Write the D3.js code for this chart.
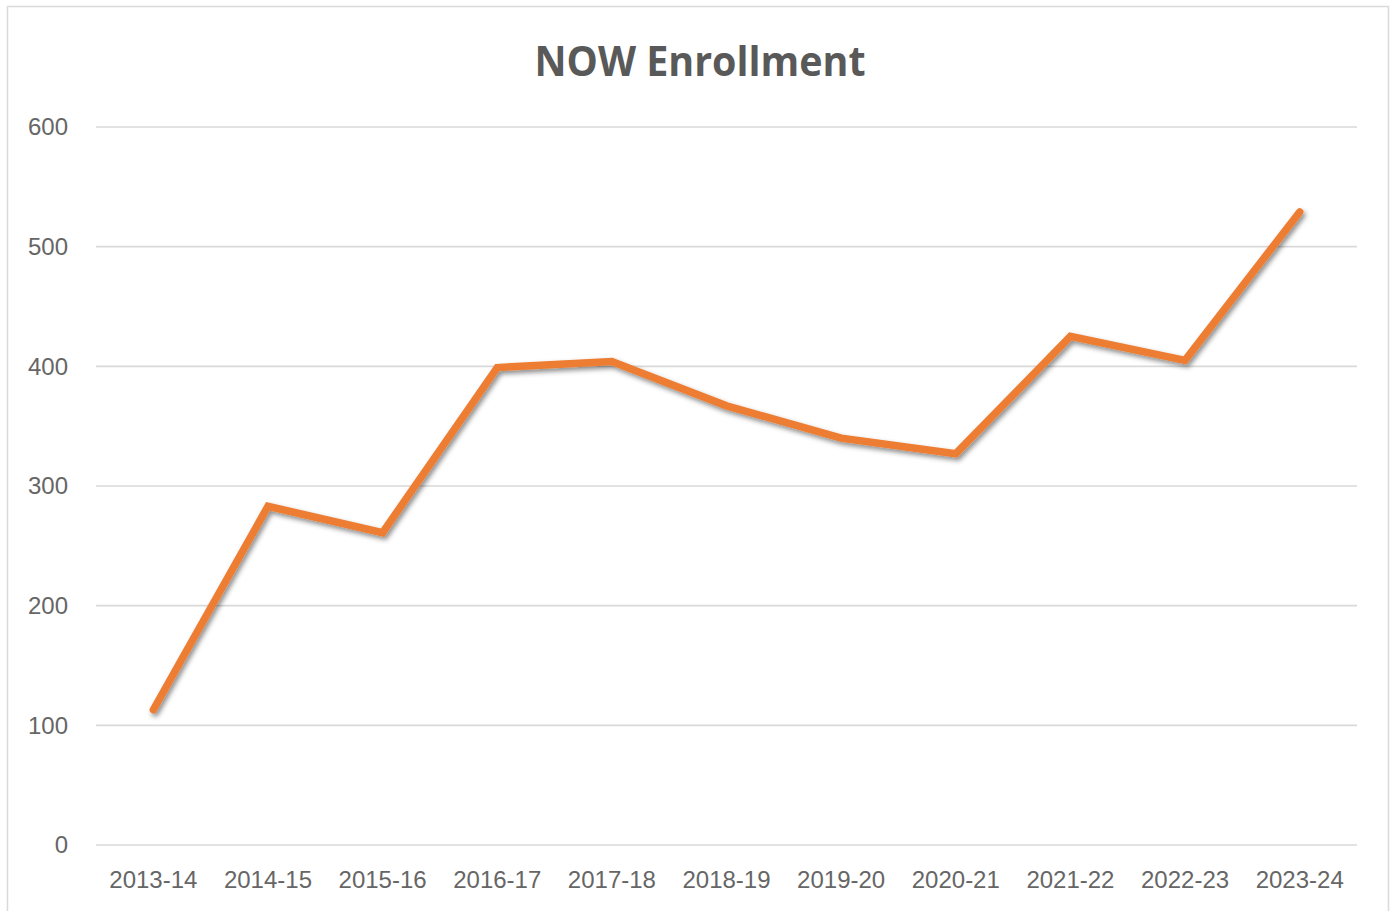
<!DOCTYPE html>
<html>
<head>
<meta charset="utf-8">
<script src="https://cdn.jsdelivr.net/npm/d3@7"></script>
<style>
  html, body { margin: 0; padding: 0; background: #fff; }
  svg { display: block; }
</style>
</head>
<body>
<div id="chart"></div>
<script>
let years = ["2013-14","2014-15","2015-16","2016-17","2017-18","2018-19","2019-20","2020-21","2021-22","2022-23","2023-24"];
let enrollment = [113, 283, 261, 399, 404, 367, 340, 327, 425, 405, 529];
let yTicks = [0, 100, 200, 300, 400, 500, 600];
let title = "NOW Enrollment";

let width = 1392, height = 911;
let margin = {top: 127, right: 35, bottom: 66, left: 96};

let svg = d3.select("#chart").append("svg")
  .attr("width", width).attr("height", height);

// frame
svg.append("rect")
  .attr("x", 7.5).attr("y", 6.5)
  .attr("width", 1381).attr("height", 912)
  .attr("fill", "#fff").attr("stroke", "#d9d9d9").attr("stroke-width", 1.5);

let defs = svg.append("defs");
let shadow = defs.append("filter").attr("id", "shadow")
  .attr("x", "-10%").attr("y", "-10%").attr("width", "120%").attr("height", "130%");
shadow.append("feDropShadow")
  .attr("dx", 2).attr("dy", 3).attr("stdDeviation", 2.5)
  .attr("flood-color", "#000").attr("flood-opacity", 0.45);

let x = d3.scaleBand().domain(years)
  .range([margin.left, width - margin.right]);
let y = d3.scaleLinear().domain([0, 600])
  .range([height - margin.bottom, margin.top]);

// gridlines
svg.append("g").selectAll("line")
  .data(yTicks)
  .enter().append("line")
    .attr("x1", margin.left).attr("x2", width - margin.right)
    .attr("y1", function(d){ return y(d); })
    .attr("y2", function(d){ return y(d); })
    .attr("stroke", "#d9d9d9").attr("stroke-width", 1.6);

// y axis labels
let yAxis = d3.axisLeft(y).tickValues(yTicks).tickSize(0).tickPadding(28);
let gy = svg.append("g").attr("transform", "translate(" + margin.left + ",0)").call(yAxis);
gy.select(".domain").remove();
gy.selectAll("text")
  .attr("fill", "#666666")
  .style("font-family", "'Liberation Sans', Arial, sans-serif")
  .style("font-size", "24px");

// x axis labels
let xAxis = d3.axisBottom(x).tickSize(0).tickPadding(26);
let gx = svg.append("g").attr("transform", "translate(0," + (height - margin.bottom) + ")").call(xAxis);
gx.select(".domain").remove();
gx.selectAll("text")
  .attr("fill", "#666666")
  .style("font-family", "'Liberation Sans', Arial, sans-serif")
  .style("font-size", "24px");

// line
let line = d3.line()
  .x(function(d, i){ return x(years[i]) + x.bandwidth() / 2; })
  .y(function(d){ return y(d); });

svg.append("path")
  .datum(enrollment)
  .attr("fill", "none")
  .attr("stroke", "#ED7D31")
  .attr("stroke-width", 7.5)
  .attr("stroke-linecap", "round")
  .attr("stroke-linejoin", "miter")
  .attr("filter", "url(#shadow)")
  .attr("d", line);

// title
svg.append("text")
  .attr("x", 700).attr("y", 76)
  .attr("text-anchor", "middle")
  .attr("fill", "#595959")
  .attr("textLength", 331)
  .attr("lengthAdjust", "spacingAndGlyphs")
  .style("font-family", "'Open Sans', sans-serif")
  .style("font-weight", "bold")
  .style("font-size", "42px")
  .text(title);
</script>
</body>
</html>
